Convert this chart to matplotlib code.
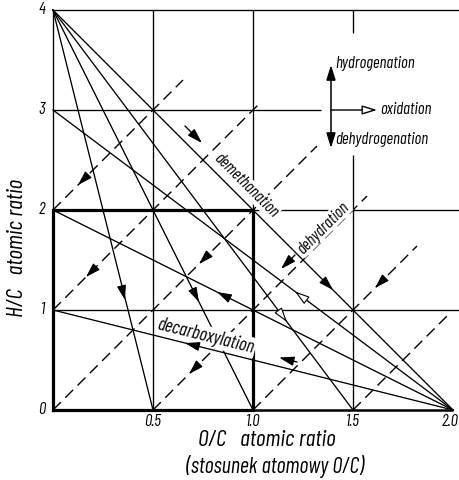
import matplotlib
matplotlib.use('Agg')
import matplotlib.pyplot as plt

plt.rcParams['font.family'] = ['Barlow Condensed', 'DejaVu Sans']
plt.rcParams['font.style'] = 'italic'
plt.rcParams['font.stretch'] = 'condensed'
plt.rcParams['font.weight'] = 'normal'

# demethanation lines: all start at CH4 point (0, 4)
ch4_point = (0.0, 4.0)
ch4_ends_x = [0.5, 1.0, 1.5, 2.0]

# decarboxylation lines: all end at CO2 point (2, 0)
co2_point = (2.0, 0.0)
co2_starts_y = [1.0, 2.0, 3.0]

# dehydration lines (dashed): H/C = 2*O/C + k
dash_k = [2, 1, 0, -1, -2, -3]
dash_x0 = [0.0, 0.0, 0.0, 0.5, 1.0, 1.5]
dash_x1 = [0.65, 1.03, 1.32, 1.57, 1.82, 1.98]

# arrowheads sitting on the lines (tip x, tip y, hollow?)
ch4_arrows = [(0.36, 1.10, False), (0.73, 1.08, False), (1.17, 0.88, True), (1.40, 1.20, False)]
co2_arrows = [(0.66, 0.67, False), (0.82, 1.18, False), (1.21, 1.185, True)]
dash_arrows_x = [0.125, 0.165, 0.73, 0.68, 1.61]
dash_arrows_k = [2, 1, 0, -1, -2]

x_ticks = [0.5, 1.0, 1.5, 2.0]
x_tick_labels = ['0.5', '1.0', '1.5', '2.0']
y_ticks = [0, 1, 2, 3, 4]

fig = plt.figure(figsize=(4.59, 4.80), dpi=100)
ax = fig.add_axes([53 / 459, 70 / 480, 406 / 459, 400 / 480])
ax.set_xlim(0, 2.03)
ax.set_ylim(0, 4)
ax.axis('off')

K = 'black'
thin = 0.95
FS = 12


def hline(y, x0, x1, lw=thin):
    ax.plot([x0, x1], [y, y], color=K, lw=lw, clip_on=False, solid_capstyle='butt')


def vline(x, y0, y1, lw=thin):
    ax.plot([x, x], [y0, y1], color=K, lw=lw, clip_on=False, solid_capstyle='butt')


def head(x, y, dx, dy, hollow=False):
    ax.annotate('', xy=(x, y), xytext=(x - dx * 0.01, y - dy * 0.01),
                arrowprops=dict(arrowstyle='-|>,head_length=0.9,head_width=0.28',
                                mutation_scale=10, lw=0.8, ec=K,
                                fc='white' if hollow else K,
                                shrinkA=0, shrinkB=0), zorder=6)


def short_arrow(x0, y0, x1, y1):
    ax.annotate('', xy=(x1, y1), xytext=(x0, y0),
                arrowprops=dict(arrowstyle='-|>,head_length=0.9,head_width=0.28',
                                mutation_scale=10, lw=1.0, color=K,
                                shrinkA=0, shrinkB=0), zorder=6)


# grid / frame
hline(4, 0, 2.03)
hline(3, 0, 1.34)
hline(2, 1.0, 2.03)
hline(1, 0, 2.03)
vline(0, 2, 4)
vline(0.5, 0, 4)
vline(1.0, 2, 4)
vline(1.5, 0, 2.55)
vline(1.5, 3.77, 4)
hline(0, 1.0, 2.0, lw=1.8)

# bold square
ax.plot([0, 1, 1, 0, 0], [0, 0, 2, 2, 0], color=K, lw=2.3, clip_on=False,
        solid_joinstyle='miter', zorder=4)

# solid reaction lines
for xe in ch4_ends_x:
    ax.plot([ch4_point[0], xe], [ch4_point[1], 0], color=K, lw=thin, clip_on=False)
for ys in co2_starts_y:
    ax.plot([0, co2_point[0]], [ys, co2_point[1]], color=K, lw=thin, clip_on=False)

# dashed dehydration lines
for k, x0, x1 in zip(dash_k, dash_x0, dash_x1):
    ax.plot([x0, x1], [2 * x0 + k, 2 * x1 + k], color=K, lw=1.0,
            dashes=(8, 4.5), clip_on=False)

# arrowheads
for x, y, hol in ch4_arrows:
    xe = x / (4 - y) * 4
    head(x, y, xe, -4, hol)
for x, y, hol in co2_arrows:
    head(x, y, -2, y / (2 - x) * 2, hol)
for x, k in zip(dash_arrows_x, dash_arrows_k):
    head(x, 2 * x + k, -1, -2)

# reaction labels with their arrows
box = dict(facecolor='white', edgecolor='none', pad=0.8)
ax.text(0.965, 2.25, 'demethanation', rotation=-45, fontsize=FS,
        ha='center', va='center', bbox=box, zorder=5)
short_arrow(0.66, 2.84, 0.745, 2.67)
ax.text(1.35, 1.82, 'dehydration', rotation=45, fontsize=FS,
        ha='center', va='center', bbox=box, zorder=5)
short_arrow(1.21, 1.55, 1.14, 1.41)
ax.text(0.765, 0.74, 'decarboxylation', rotation=-14, fontsize=13.5,
        ha='center', va='center', bbox=box, zorder=5)
short_arrow(1.22, 0.48, 1.13, 0.525)

# direction key
ax.annotate('', xy=(1.39, 3.45), xytext=(1.39, 2.62),
            arrowprops=dict(arrowstyle='<|-|>,head_length=0.9,head_width=0.28',
                            mutation_scale=10, lw=1.1, color=K, shrinkA=0, shrinkB=0))
ax.annotate('', xy=(1.62, 3.0), xytext=(1.39, 3.0),
            arrowprops=dict(arrowstyle='-|>,head_length=0.9,head_width=0.28',
                            mutation_scale=10, lw=1.0, ec=K, fc='white',
                            shrinkA=0, shrinkB=0))
ax.text(1.41, 3.46, 'hydrogenation', fontsize=FS, ha='left', va='center')
ax.text(1.635, 3.0, 'oxidation', fontsize=FS, ha='left', va='center')
ax.text(1.41, 2.70, 'dehydrogenation', fontsize=FS, ha='left', va='center')

# tick labels
for xt, lab in zip(x_ticks, x_tick_labels):
    ax.text(min(xt, 1.985), -0.12, lab, fontsize=FS, ha='center', va='center', clip_on=False)
for yt in y_ticks:
    ax.text(-0.04, yt, str(yt), fontsize=FS, ha='right', va='center')

# axis titles
fig.text(18 / 459, 1 - 248 / 480, 'H/C   atomic ratio', rotation=90,
         fontsize=17, ha='center', va='center')
fig.text(267 / 459, 1 - 441 / 480, 'O/C   atomic ratio', fontsize=17,
         ha='center', va='center')
fig.text(275 / 459, 1 - 466 / 480, '(stosunek atomowy O/C)', fontsize=16,
         ha='center', va='center')

plt.savefig('out.png', dpi=100)
plt.close()
